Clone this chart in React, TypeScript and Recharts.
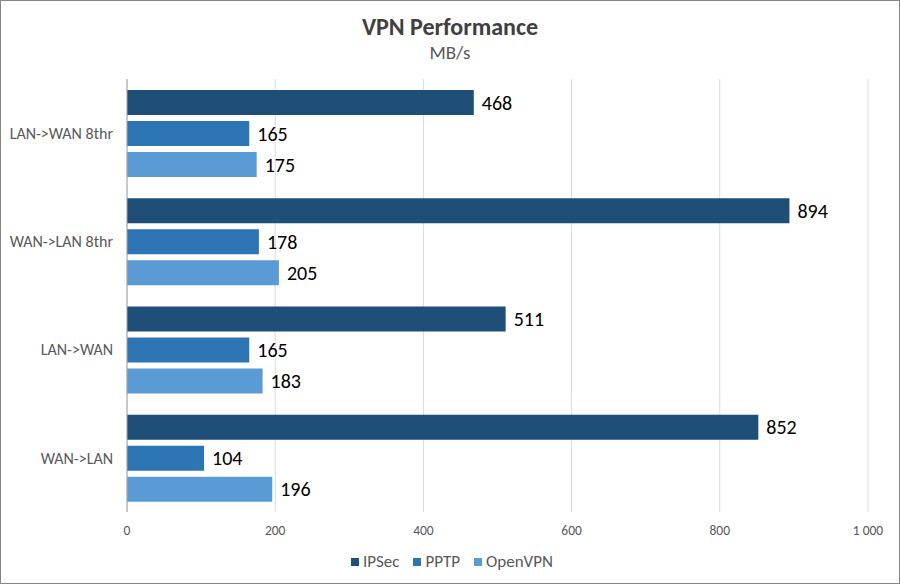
import {
  BarChart,
  Bar,
  XAxis,
  YAxis,
  CartesianGrid,
  Legend,
  LabelList,
} from 'recharts';

const categories = ['LAN->WAN 8thr', 'WAN->LAN 8thr', 'LAN->WAN', 'WAN->LAN'];
const ipsec = [468, 894, 511, 852];
const pptp = [165, 178, 165, 104];
const openvpn = [175, 205, 183, 196];
const xTicks = [0, 200, 400, 600, 800, 1000];

const series = [
  { key: 'IPSec', color: '#1f4e79' },
  { key: 'PPTP', color: '#2e75b6' },
  { key: 'OpenVPN', color: '#5b9bd5' },
];

const data = categories.map((name, i) => ({
  name,
  IPSec: ipsec[i],
  PPTP: pptp[i],
  OpenVPN: openvpn[i],
}));

const font = "Carlito, Calibri, 'Noto Sans', sans-serif";

const fmtTick = (v: number) => (v >= 1000 ? v.toLocaleString('en-US').replace(',', ' ') : String(v));

const LegendBox = () => (
  <div
    style={{
      height: 30,
      boxSizing: 'border-box',
      paddingTop: 9,
      paddingLeft: 50,
      display: 'flex',
      justifyContent: 'center',
      fontSize: 17,
      color: '#595959',
      fontFamily: font,
      lineHeight: '18px',
    }}
  >
    {series.map((s) => (
      <span key={s.key} style={{ display: 'flex', alignItems: 'center', marginRight: 14, fontSize: 17 }}>
        <span style={{ width: 8, height: 8, background: s.color, marginRight: 4, display: 'inline-block' }} />
        {s.key}
      </span>
    ))}
  </div>
);

export default function App() {
  return (
    <div style={{ position: 'relative', width: 900, height: 584, background: '#fff', fontFamily: font }}>
      <style>{'body{margin:0}'}</style>
      <div
        style={{
          position: 'absolute',
          top: 12,
          width: 900,
          textAlign: 'center',
          fontSize: 24,
          fontWeight: 'bold',
          color: '#404040',
        }}
      >
        VPN Performance
      </div>
      <div
        style={{
          position: 'absolute',
          top: 41,
          width: 900,
          textAlign: 'center',
          fontSize: 19,
          color: '#595959',
        }}
      >
        MB/s
      </div>
      <BarChart
        width={900}
        height={584}
        data={data}
        layout="vertical"
        margin={{ top: 79, right: 32, left: 0, bottom: 12 }}
        barSize={25}
        barGap={6}
      >
        <CartesianGrid horizontal={false} stroke="#d9d9d9" />
        <XAxis
          type="number"
          domain={[0, 1000]}
          ticks={xTicks}
          tickFormatter={fmtTick}
          axisLine={false}
          tickLine={false}
          height={30}
          tickMargin={7}
          tick={{ fill: '#595959', fontSize: 13.5, fontFamily: font }}
        />
        <YAxis
          type="category"
          dataKey="name"
          width={127}
          axisLine={{ stroke: '#a6a6a6' }}
          tickLine={false}
          tickSize={0}
          tickMargin={14}
          tick={{ fill: '#595959', fontSize: 16, fontFamily: font }}
        />
        <Legend verticalAlign="bottom" height={30} content={<LegendBox />} />
        {series.map((s) => (
          <Bar key={s.key} dataKey={s.key} fill={s.color} isAnimationActive={false}>
            <LabelList dataKey={s.key} position="right" offset={8} fill="#000" fontSize={20} fontFamily={font} />
          </Bar>
        ))}
      </BarChart>
      <div
        style={{
          position: 'absolute',
          left: 0,
          top: 0,
          width: 900,
          height: 584,
          boxSizing: 'border-box',
          border: '1px solid #868686',
          pointerEvents: 'none',
        }}
      />
    </div>
  );
}
